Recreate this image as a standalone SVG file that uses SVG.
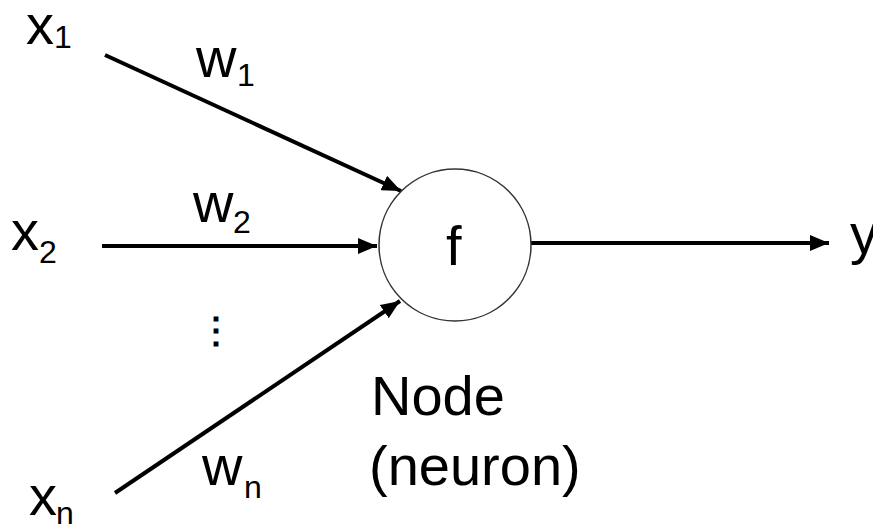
<svg xmlns="http://www.w3.org/2000/svg" width="873" height="527" viewBox="0 0 873 527">
<style>
text{font-family:"Liberation Sans",Arial,sans-serif;fill:#000}
.m{font-size:56px}
.s{font-size:32px}
.c{stroke:#000;stroke-width:4;fill:none}
</style>
<defs>
<marker id="ah" markerUnits="userSpaceOnUse" markerWidth="20" markerHeight="16" refX="19" refY="8" orient="auto" viewBox="0 0 20 16">
<path d="M0,0 L19,8 L0,16 z" fill="#000"/>
</marker>
</defs>
<rect width="873" height="527" fill="#fff"/>
<g id="connectors">
<line class="c" x1="105" y1="55" x2="401" y2="191" marker-end="url(#ah)"/>
<line class="c" x1="102" y1="246" x2="377" y2="246" marker-end="url(#ah)"/>
<line class="c" x1="115" y1="493" x2="400" y2="301" marker-end="url(#ah)"/>
<line class="c" x1="531" y1="243" x2="829" y2="243" marker-end="url(#ah)"/>
</g>
<g id="node">
<circle cx="455" cy="245" r="76" fill="#fff" stroke="#333" stroke-width="1.5"/>
<text class="m" x="446" y="265">f</text>
<text class="m" x="371" y="415">Node</text>
<text class="m" x="369" y="485">(neuron)</text>
</g>
<g id="x1"><text class="m" x="26" y="44">x</text><text class="s" x="54" y="48">1</text></g>
<g id="x2"><text class="m" x="11" y="250">x</text><text class="s" x="39" y="263">2</text></g>
<g id="xn"><text class="m" x="29" y="515">x</text><text class="s" x="56" y="524">n</text></g>
<g id="w1"><text class="m" x="196" y="77">w</text><text class="s" x="237" y="86">1</text></g>
<g id="w2"><text class="m" x="193" y="222">w</text><text class="s" x="233" y="233">2</text></g>
<g id="wn"><text class="m" x="202" y="485">w</text><text class="s" x="244" y="498">n</text></g>
<g id="dots"><text x="216" y="343" font-size="36" font-weight="bold" font-family="DejaVu Sans,sans-serif" text-anchor="middle">⋮</text></g>
<g id="y"><text class="m" x="850" y="253">y</text></g>
</svg>
